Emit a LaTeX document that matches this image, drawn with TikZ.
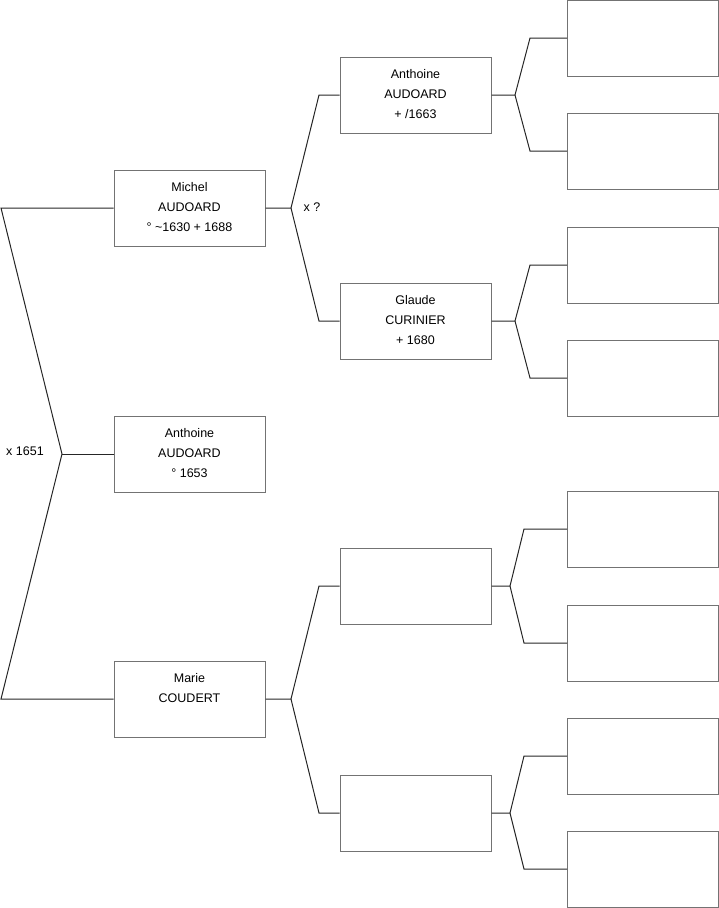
\documentclass[tikz,border=0pt]{standalone}
\usepackage{fontspec}
\setmainfont{Liberation Sans}
\begin{document}
\begin{tikzpicture}[x=1pt,y=-1pt,
  box/.style={draw=black!55, line width=1pt, minimum width=151pt, minimum height=76pt, inner sep=0pt},
  txt/.style={anchor=north, inner sep=0pt, align=center, font=\fontsize{12.5}{19.8}\selectfont, yshift=-13pt},
  lbl/.style={inner sep=0pt, font=\fontsize{12.5}{14}\selectfont},
  conn/.style={draw=black!85, line width=1pt}]
\useasboundingbox (0,0) rectangle (719,908);
% generation 1
\node[box] (m) at (189.5,208) {};
\node[txt] (mt) at (m.north) {Michel\\AUDOARD\\° \textasciitilde1630 + 1688};
\node[box] (a) at (189.5,454) {};
\node[txt] (at) at (a.north) {Anthoine\\AUDOARD\\° 1653};
\node[box] (ma) at (189.5,699) {};
\node[txt] (mat) at (ma.north) {Marie\\COUDERT};
% generation 2
\node[box] (p1) at (415.5,95) {};
\node[txt] (p1t) at (p1.north) {Anthoine\\AUDOARD\\+ /1663};
\node[box] (p2) at (415.5,321) {};
\node[txt] (p2t) at (p2.north) {Glaude\\CURINIER\\+ 1680};
\node[box] (p3) at (415.5,586) {};
\node[box] (p4) at (415.5,813) {};
% generation 3
\foreach \i/\y in {1/38,2/151,3/265,4/378,5/529,6/643,7/756,8/869}
  \node[box] (q\i) at (643,\y) {};
% labels
\node[lbl] (l1) at (25,451) {x 1651};
\node[lbl] (l2) at (312,207) {x ?};
% left bracket
\coordinate (c0t) at (1,208);
\coordinate (c0v) at (62,454);
\coordinate (c0b) at (1,699);
\draw[conn] (m.west) -- (c0t) -- (c0v) -- (c0b) -- (ma.west);
\draw[conn] (c0v) -- (a.west);
% Michel fork
\coordinate (c1v) at (291,208);
\coordinate (c1t) at (319,95);
\coordinate (c1b) at (319,321);
\draw[conn] (m.east) -- (c1v) -- (c1t) -- (p1.west);
\draw[conn] (c1v) -- (c1b) -- (p2.west);
% Marie fork
\coordinate (c2v) at (291,699);
\coordinate (c2t) at (319,586);
\coordinate (c2b) at (319,813);
\draw[conn] (ma.east) -- (c2v) -- (c2t) -- (p3.west);
\draw[conn] (c2v) -- (c2b) -- (p4.west);
% gen2 forks
\coordinate (d1v) at (515,95);
\coordinate (d1t) at (530,38);
\coordinate (d1b) at (530,151);
\draw[conn] (p1.east) -- (d1v) -- (d1t) -- (q1.west);
\draw[conn] (d1v) -- (d1b) -- (q2.west);
\coordinate (d2v) at (515,321);
\coordinate (d2t) at (530,265);
\coordinate (d2b) at (530,378);
\draw[conn] (p2.east) -- (d2v) -- (d2t) -- (q3.west);
\draw[conn] (d2v) -- (d2b) -- (q4.west);
\coordinate (d3v) at (510,586);
\coordinate (d3t) at (524,529);
\coordinate (d3b) at (524,643);
\draw[conn] (p3.east) -- (d3v) -- (d3t) -- (q5.west);
\draw[conn] (d3v) -- (d3b) -- (q6.west);
\coordinate (d4v) at (510,813);
\coordinate (d4t) at (524,756);
\coordinate (d4b) at (524,869);
\draw[conn] (p4.east) -- (d4v) -- (d4t) -- (q7.west);
\draw[conn] (d4v) -- (d4b) -- (q8.west);
\end{tikzpicture}
\end{document}
